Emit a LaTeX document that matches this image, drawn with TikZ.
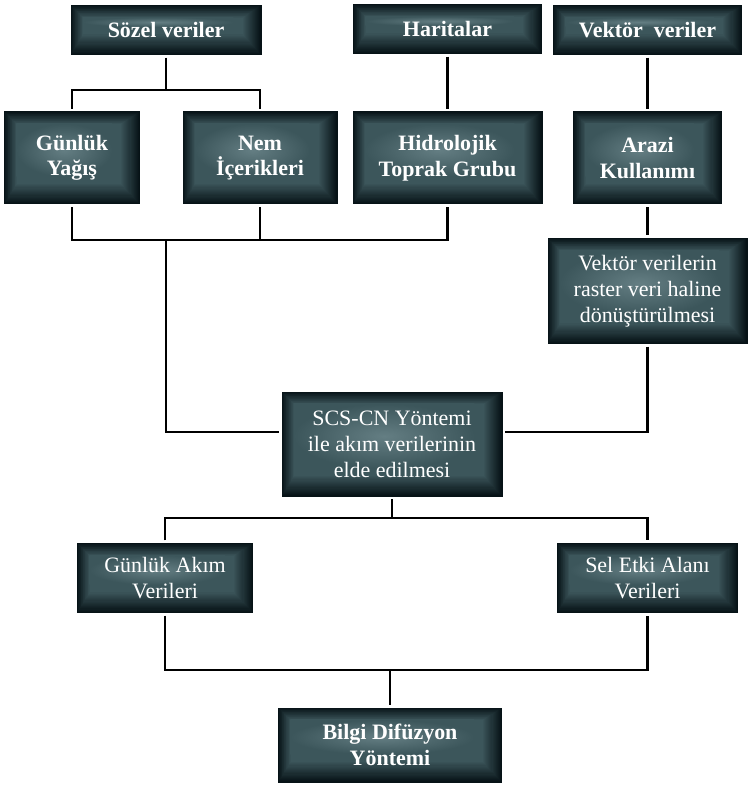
\documentclass[tikz,border=0pt]{standalone}
\usepackage{fontspec}
\setmainfont{Liberation Serif}
\usepackage{tikz}
\usetikzlibrary{positioning, calc}
\usepackage{xcolor}
\definecolor{boxdark}{RGB}{6,18,22}
\definecolor{boxmid}{RGB}{60,86,91}
\definecolor{boxlight}{RGB}{100,126,131}

\begin{document}
\begin{tikzpicture}
  \tikzset{
    box/.style={
      fill=boxdark,
      anchor=center,
      align=center,
      text=white,
      inner sep=0pt,
      outer sep=1.5pt,
      font=\fontsize{12.5}{14.5}\selectfont\bfseries,
      path picture={
        \foreach \k in {1,...,18}{
          \pgfmathtruncatemacro{\mix}{\k*100/18}
          \fill[boxmid!\mix!boxdark]
            ([shift={(\k*0.4pt,-\k*0.4pt)}]path picture bounding box.north west)
            rectangle
            ([shift={(-\k*0.6pt,\k*0.65pt)}]path picture bounding box.south east);
        }
        \shade[inner color=boxlight, outer color=boxmid]
          ([shift={(7pt,-7pt)}]path picture bounding box.north west)
          rectangle
          ([shift={(-16pt,16pt)}]path picture bounding box.south east);
      }
    },
    plainbox/.style={
      box,
      font=\fontsize{12.5}{14.8}\selectfont
    },
    link/.style={
      draw=black,
      line width=1.4pt
    }
  }
  \useasboundingbox (0,0) rectangle (15.06,-15.74);

  % Top row: data sources
    \node[box, minimum width=3.82cm, minimum height=1.0cm] at (3.32, -0.60) (sozel) {Sözel veriler};
    \node[box, minimum width=3.78cm, minimum height=1.0cm] at (8.95, -0.58) (harita) {Haritalar};
    \node[box, minimum width=3.78cm, minimum height=1.0cm] at (12.95, -0.60) (vektor) {Vektör~ veriler};

  % Second row: inputs
    \node[box, minimum width=2.72cm, minimum height=1.86cm] at (1.44, -3.16) (gunluk) {Günlük\\Yağış};
    \node[box, minimum width=3.10cm, minimum height=1.86cm] at (5.20, -3.16) (nem) {Nem\\İçerikleri};
    \node[box, minimum width=3.80cm, minimum height=1.86cm] at (8.95, -3.16) (hidro) {Hidrolojik\\Toprak Grubu};
    \node[box, minimum width=2.98cm, minimum height=1.86cm] at (12.95, -3.16) (arazi) {Arazi\\Kullanımı};

  % Conversion and method
    \node[plainbox, minimum width=4.0cm, minimum height=2.12cm] at (12.95, -5.82) (raster) {Vektör verilerin\\raster veri haline\\dönüştürülmesi};
    \node[plainbox, minimum width=4.42cm, minimum height=2.10cm] at (7.84, -8.88) (scs) {SCS-CN Yöntemi\\ile akım verilerinin\\elde edilmesi};

  % Outputs
    \node[plainbox, minimum width=3.52cm, minimum height=1.40cm] at (3.30, -11.56) (akim) {Günlük Akım\\Verileri};
    \node[plainbox, minimum width=3.62cm, minimum height=1.40cm] at (12.95, -11.56) (sel) {Sel Etki Alanı\\Verileri};
    \node[box, minimum width=4.48cm, minimum height=1.50cm] at (7.80, -14.90) (bilgi) {Bilgi Difüzyon\\Yöntemi};

  % Junction points
    \coordinate (splitA) at (3.32, -1.80);
    \coordinate (collectA) at (3.32, -4.80);
    \coordinate (splitB) at (7.84, -10.36);
    \coordinate (collectC) at (7.80, -13.40);

  % Connectors
    \draw[link] (sozel) -- (splitA);
    \draw[link] (gunluk.north) |- (splitA) -| (nem.north);
    \draw[link] (harita) -- (hidro);
    \draw[link] (vektor) -- (arazi);
    \draw[link] (gunluk.south) |- (collectA) -| (hidro.south);
    \draw[link] (nem.south) -- (nem.south |- collectA);
    \draw[link] (collectA) |- ([yshift=0.24cm]scs.west);
    \draw[link] (arazi) -- (raster);
    \draw[link] (raster.south) |- ([yshift=0.24cm]scs.east);
    \draw[link] (scs) -- (splitB);
    \draw[link] (akim.north) |- (splitB) -| (sel.north);
    \draw[link] (akim.south) |- (collectC) -| (sel.south);
    \draw[link] (collectC) -- (bilgi);

\end{tikzpicture}
\end{document}
